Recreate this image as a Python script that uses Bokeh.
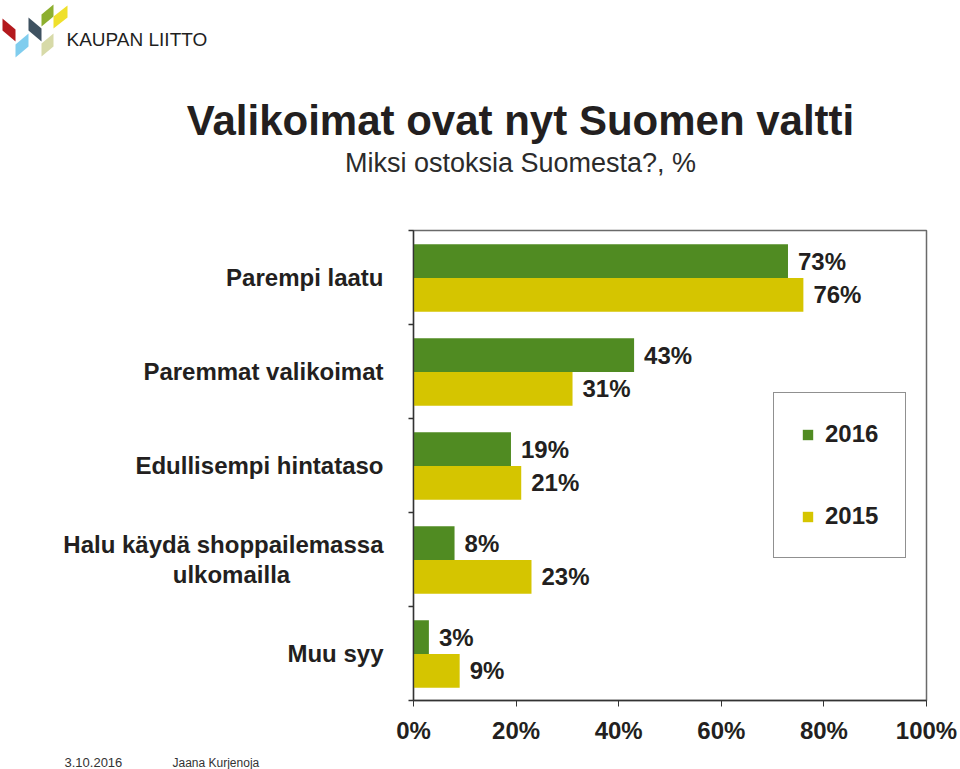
from bokeh.plotting import figure
from bokeh.models import (Range1d, FixedTicker, LabelSet, ColumnDataSource,
                          Legend, LegendItem, PrintfTickFormatter)
from bokeh.layouts import column
from bokeh.embed import file_html
from bokeh.resources import INLINE
from bokeh.core.properties import value

# ---------------- data ----------------
categories = ["Parempi laatu", "Paremmat valikoimat", "Edullisempi hintataso",
              "Halu käydä shoppailemassa\nulkomailla", "Muu syy"]
values_2016 = [73, 43, 19, 8, 3]
values_2015 = [76, 31, 21, 23, 9]
series_names = ["2016", "2015"]
x_ticks = [0, 20, 40, 60, 80, 100]
title_text = "Valikoimat ovat nyt Suomen valtti"
subtitle_text = "Miksi ostoksia Suomesta?, %"
logo_text = "KAUPAN LIITTO"
footer_date = "3.10.2016"
footer_author = "Jaana  Kurjenoja"

# ---------------- style ----------------
FONT = "Liberation Sans"
TXT = "#231f20"
GREEN = "#508b22"
YELLOW = "#d5c500"
NBSP = "\u00a0"

W = 960
HEAD_H, MAIN_H, FOOT_H = 215, 533, 21


def no_align(fig):
    try:
        fig.frame_align = False
    except Exception:
        pass


def blank_fig(height, y0, y1):
    f = figure(width=W, height=height, x_range=Range1d(0, W), y_range=Range1d(y1, y0),
               toolbar_location=None, output_backend="svg", min_border=0,
               x_axis_location=None, y_axis_location=None)
    f.grid.visible = False
    f.outline_line_color = None
    f.background_fill_color = "white"
    f.border_fill_color = "white"
    no_align(f)
    return f


# ---------------- header (page pixels 0..215) ----------------
h = blank_fig(HEAD_H, 0, HEAD_H)
logo_shapes = [
    ([2, 15, 15, 2], [18, 29, 41, 30], "#b3191d"),
    ([15, 28, 28, 15], [44, 33, 46, 57], "#80cdee"),
    ([28, 41, 41, 28], [17, 28, 41, 30], "#3e5160"),
    ([41, 53, 53, 41], [14, 4, 16, 26], "#8daf2f"),
    ([53, 67, 67, 53], [16, 5, 17, 28], "#efe02b"),
    ([41, 53, 53, 41], [43, 33, 46, 56], "#d7daa8"),
]
h.patches(xs=[s[0] for s in logo_shapes], ys=[s[1] for s in logo_shapes],
          fill_color=[s[2] for s in logo_shapes], line_color=None)
h.text(x=[66], y=[39], text=[logo_text], text_font=value(FONT), text_font_size="19px",
       text_align="left", text_baseline="middle", text_color="#1f1f1f")
h.text(x=[520], y=[120], text=[title_text], text_font=value(FONT), text_font_style="bold",
       text_font_size="42px", text_align="center", text_baseline="middle", text_color=TXT)
h.text(x=[520], y=[162], text=[subtitle_text], text_font=value(FONT),
       text_font_size="27px", text_align="center", text_baseline="middle", text_color="#2b2b2b")

# ---------------- main chart (page pixels 215..748) ----------------
FL, FR, FT, FB = 413, 926, 230, 700
p = figure(width=W, height=MAIN_H, x_range=Range1d(0, 100), y_range=Range1d(5, 0),
           toolbar_location=None, output_backend="svg",
           min_border_left=FL, min_border_right=W - FR,
           min_border_top=FT - HEAD_H, min_border_bottom=HEAD_H + MAIN_H - FB)
no_align(p)
p.grid.visible = False
p.outline_line_color = "#6a6a6a"
p.outline_line_width = 1.5
p.background_fill_color = "white"
p.border_fill_color = "white"

idx = list(range(len(categories)))
src = ColumnDataSource(dict(
    y16=[i + 0.325 for i in idx],
    y15=[i + 0.685 for i in idx],
    v16=values_2016,
    v15=values_2015,
    l16=[f"{v}%" for v in values_2016],
    l15=[f"{v}%" for v in values_2015],
))

r16 = p.hbar(y="y16", left=0, right="v16", height=0.36, source=src,
             fill_color=GREEN, line_color=None)
r15 = p.hbar(y="y15", left=0, right="v15", height=0.36, source=src,
             fill_color=YELLOW, line_color=None)

for xcol, ycol, tcol in (("v16", "y16", "l16"), ("v15", "y15", "l15")):
    p.add_layout(LabelSet(x=xcol, y=ycol, text=tcol, source=src, x_offset=10,
                          text_font=value(FONT), text_font_size="24px",
                          text_font_style="bold", text_color=TXT,
                          text_align="left", text_baseline="middle"))

# x axis
xa = p.xaxis[0]
xa.ticker = FixedTicker(ticks=x_ticks)
xa.formatter = PrintfTickFormatter(format="%d%%")
xa.axis_line_color = "#333333"
xa.axis_line_width = 1.3
xa.major_tick_line_color = "#333333"
xa.major_tick_out = 6
xa.major_tick_in = 0
xa.minor_tick_out = 0
xa.minor_tick_in = 0
xa.major_label_text_font = FONT
xa.major_label_text_font_size = "24px"
xa.major_label_text_font_style = "bold"
xa.major_label_text_color = TXT
xa.major_label_standoff = 10


def centre_second_line(label):
    # the reference centres the second line of a wrapped category under the first
    if "\n" not in label:
        return label
    first, second = label.split("\n", 1)
    pad = max(0, int(round((len(first) - len(second)) * 0.95)))
    return first + "\n" + second + NBSP * pad


# y axis: category names at band centres, small ticks at band boundaries
centres = [i + 0.5 for i in idx]
ya = p.yaxis[0]
ya.ticker = FixedTicker(ticks=centres, minor_ticks=list(range(len(categories) + 1)))
ya.major_label_overrides = {c: centre_second_line(cat) for c, cat in zip(centres, categories)}
ya.axis_line_color = "#333333"
ya.axis_line_width = 1.3
ya.major_tick_out = 0
ya.major_tick_in = 0
ya.minor_tick_line_color = "#333333"
ya.minor_tick_line_width = 1.3
ya.minor_tick_out = 5
ya.minor_tick_in = 0
ya.major_label_standoff = 25
ya.major_label_text_font = FONT
ya.major_label_text_font_size = "24px"
ya.major_label_text_font_style = "bold"
ya.major_label_text_color = TXT
ya.major_label_text_line_height = 1.1

# legend
legend = Legend(items=[LegendItem(label=value(series_names[0]), renderers=[r16]),
                       LegendItem(label=value(series_names[1]), renderers=[r15])],
                location=(360, 142), orientation="vertical",
                glyph_width=13, glyph_height=13, label_standoff=11,
                padding=27, spacing=54, margin=0,
                border_line_color="#222222", border_line_width=1,
                background_fill_color="white", background_fill_alpha=1,
                label_text_font=FONT, label_text_font_size="24px",
                label_text_font_style="bold", label_text_color=TXT)
p.add_layout(legend)

# ---------------- footer (page pixels 748..769) ----------------
f = blank_fig(FOOT_H, HEAD_H + MAIN_H, HEAD_H + MAIN_H + FOOT_H)
f.text(x=[64], y=[762], text=[footer_date], text_font=value(FONT), text_font_size="13px",
       text_align="left", text_baseline="middle", text_color="#333333")
f.text(x=[172], y=[762], text=[footer_author], text_font=value(FONT), text_font_size="12px",
       text_align="left", text_baseline="middle", text_color="#333333")

layout = column(h, p, f, spacing=0)
open("out.html", "w").write(file_html(layout, INLINE))
